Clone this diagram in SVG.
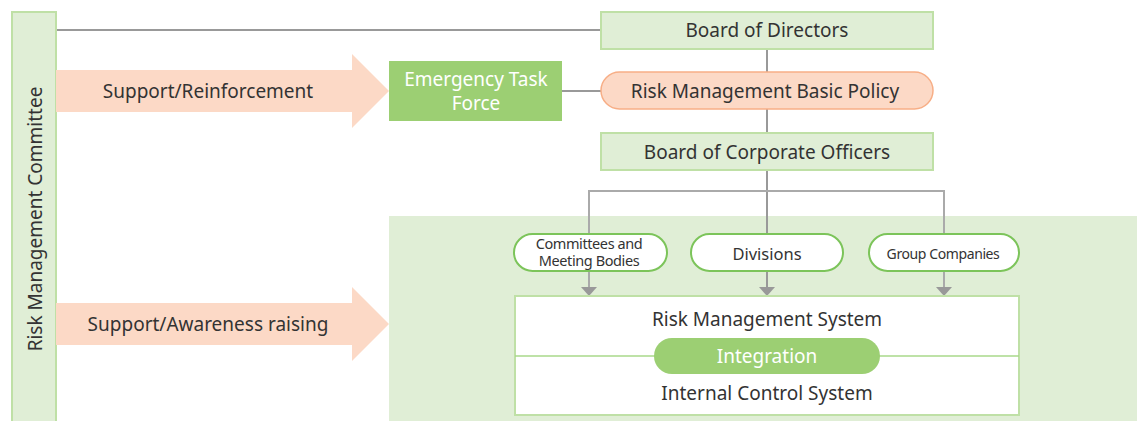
<svg xmlns="http://www.w3.org/2000/svg" width="1137" height="421" viewBox="0 0 1137 421">
  <style>
    text { font-family: "Noto Sans", "Open Sans", sans-serif; fill: #333; text-anchor: middle; dominant-baseline: central; }
    .lbl { font-size: 19px; }
    .sm { font-size: 14px; letter-spacing: -0.4px; }
    .wt { fill: #ffffff; }
    .box { fill: #e0eed6; stroke: #bfe0a6; stroke-width: 2; }
    .pill { fill: #ffffff; stroke: #7cc45a; stroke-width: 2; }
    .band { fill: #fcd9c6; }
    .wire { fill: none; stroke: #999; stroke-width: 2; }
    .wire-lt { fill: none; stroke: #aaa; stroke-width: 2; }
  </style>

  <!-- background panel -->
  <rect x="389" y="216" width="748" height="205" fill="#e0eed6"/>

  <!-- connectors -->
  <g id="connectors">
    <line class="wire" x1="56" y1="30" x2="601" y2="30"/>
    <line class="wire" x1="562" y1="91" x2="601" y2="91"/>
    <line class="wire" x1="767" y1="49" x2="767" y2="133"/>
    <line class="wire" x1="767" y1="170" x2="767" y2="287"/>
    <path class="wire-lt" d="M589,287 V191 H944 V287"/>
    <path d="M581,287 L597,287 L589,296 Z" fill="#999"/>
    <path d="M759,287 L775,287 L767,296 Z" fill="#999"/>
    <path d="M936,287 L952,287 L944,296 Z" fill="#999"/>
  </g>

  <g id="risk-committee">
    <rect class="box" x="12" y="12" width="44" height="420"/>
    <text class="lbl" transform="translate(35,219) rotate(-90)">Risk Management Committee</text>
  </g>

  <g id="support-reinforcement">
    <path class="band" d="M56,70 H352 V54 L389,91 L352,128 V112 H56 Z"/>
    <text class="lbl" x="208" y="91">Support/Reinforcement</text>
  </g>

  <g id="support-awareness">
    <path class="band" d="M56,303 H352 V287 L389,324 L352,361 V345 H56 Z"/>
    <text class="lbl" x="208" y="324">Support/Awareness raising</text>
  </g>

  <g id="emergency-task-force">
    <rect x="389" y="61" width="173" height="60" fill="#9ccf73"/>
    <text class="lbl wt" x="476" y="79">Emergency Task</text>
    <text class="lbl wt" x="476" y="103">Force</text>
  </g>

  <g id="board-directors">
    <rect class="box" x="601" y="12" width="332" height="37"/>
    <text class="lbl" x="767" y="30">Board of Directors</text>
  </g>

  <g id="basic-policy">
    <rect x="601" y="72" width="332" height="37" rx="18.5" fill="#fcd9c6" stroke="#f7ae86" stroke-width="1.5"/>
    <text class="lbl" x="765" y="91">Risk Management Basic Policy</text>
  </g>

  <g id="board-officers">
    <rect class="box" x="601" y="133" width="332" height="37"/>
    <text class="lbl" x="767" y="152">Board of Corporate Officers</text>
  </g>

  <g id="committees">
    <rect class="pill" x="514" y="234" width="153" height="37" rx="18.5"/>
    <text class="sm" x="589" y="243" style="font-size:14.5px">Committees and</text>
    <text class="sm" x="589" y="260" style="font-size:14.5px">Meeting Bodies</text>
  </g>

  <g id="divisions">
    <rect class="pill" x="691" y="234" width="152" height="37" rx="18.5"/>
    <text x="767" y="253" style="font-size:16.5px">Divisions</text>
  </g>

  <g id="group-companies">
    <rect class="pill" x="869" y="234" width="150" height="37" rx="18.5"/>
    <text class="sm" x="943" y="253">Group Companies</text>
  </g>

  <g id="systems">
    <rect x="515" y="296" width="504" height="119" fill="#ffffff" stroke="#bfe0a6" stroke-width="2"/>
    <line x1="515" y1="356" x2="1019" y2="356" stroke="#a9d88a" stroke-width="1.5"/>
    <text class="lbl" x="767" y="319">Risk Management System</text>
    <text class="lbl" x="767" y="393">Internal Control System</text>
  </g>

  <g id="integration">
    <rect x="654" y="338" width="226" height="36" rx="18" fill="#9ccf73"/>
    <text class="lbl wt" x="767" y="356">Integration</text>
  </g>
</svg>
